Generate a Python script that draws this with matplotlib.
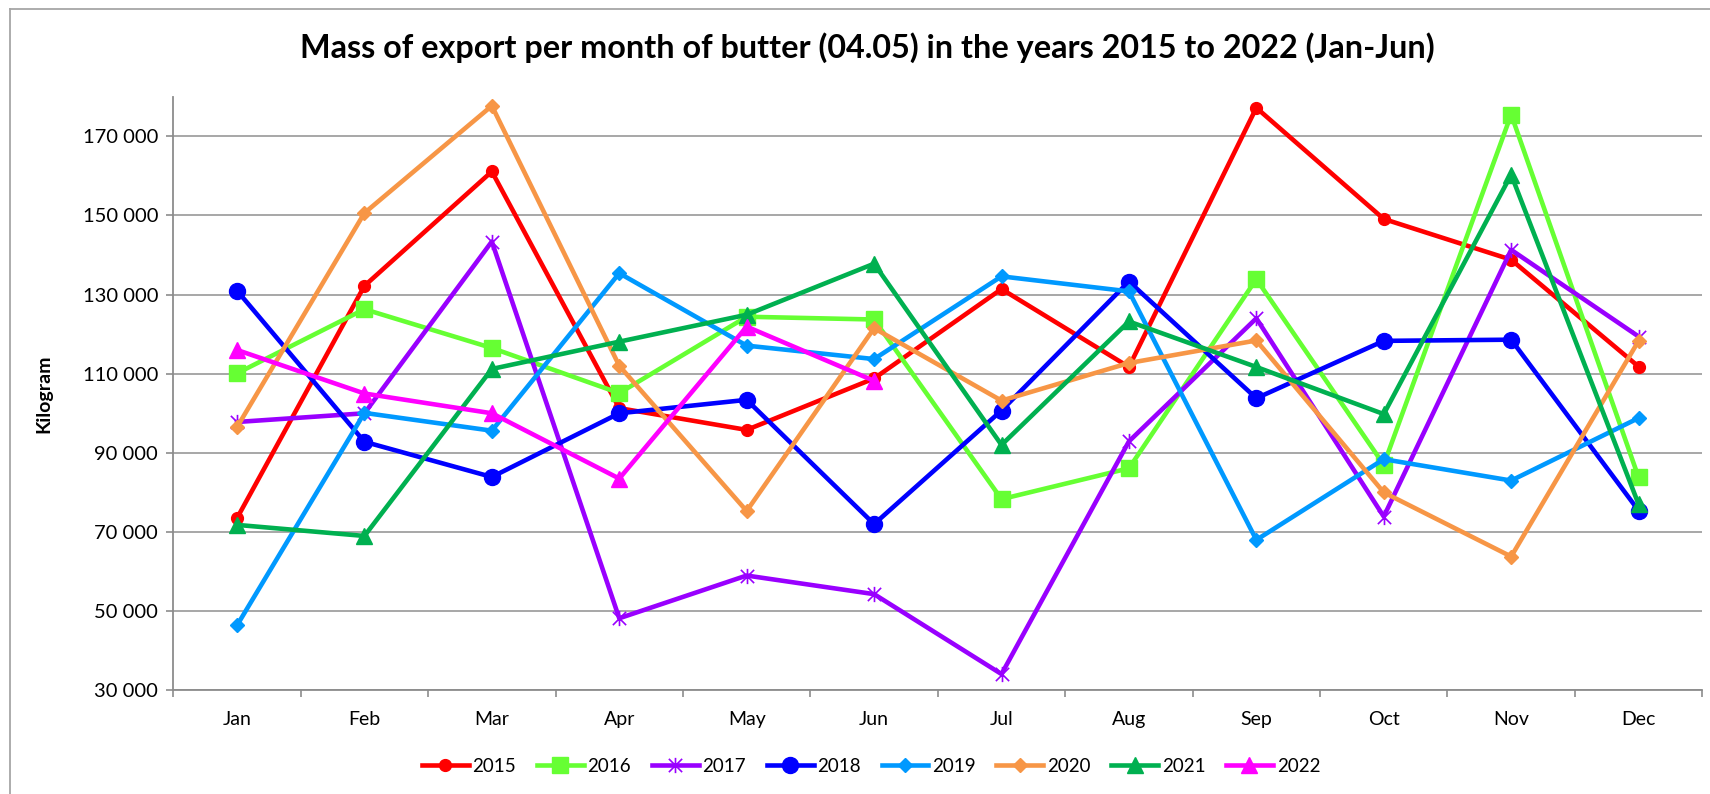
import matplotlib
matplotlib.use("Agg")
import matplotlib.pyplot as plt
from matplotlib.path import Path
from matplotlib.lines import Line2D
from matplotlib.ticker import FuncFormatter, FixedLocator

plt.rcParams['font.family'] = ['Lato', 'DejaVu Sans']

months = ["Jan", "Feb", "Mar", "Apr", "May", "Jun",
          "Jul", "Aug", "Sep", "Oct", "Nov", "Dec"]

y2015 = [73500, 132200, 161100, 101300, 95800, 108800, 131400, 111700, 177200, 149100, 138800, 111800]
y2016 = [110100, 126300, 116500, 105100, 124400, 123700, 78300, 86100, 133900, 87000, 175500, 83800]
y2017 = [97800, 100000, 143400, 48200, 59000, 54300, 34100, 92900, 124000, 73900, 141300, 119400]
y2018 = [131000, 92800, 83900, 100000, 103400, 72000, 100700, 133300, 103800, 118300, 118600, 75400]
y2019 = [46400, 100100, 95600, 135400, 117100, 113700, 134600, 130800, 68000, 88400, 83000, 98800]
y2020 = [96500, 150600, 177700, 112000, 75300, 121500, 103200, 112700, 118400, 80000, 63800, 118300]
y2021 = [71800, 69000, 111200, 118100, 124900, 137800, 92000, 123200, 111700, 99800, 160300, 77000]
y2022 = [116000, 105000, 100000, 83500, 121900, 108200]

series = [
    ("2015", y2015), ("2016", y2016), ("2017", y2017), ("2018", y2018),
    ("2019", y2019), ("2020", y2020), ("2021", y2021), ("2022", y2022),
]

star = Path([(-1, -1), (1, 1), (-1, 1), (1, -1), (0, -1.15), (0, 1.15)],
            [Path.MOVETO, Path.LINETO, Path.MOVETO, Path.LINETO, Path.MOVETO, Path.LINETO])

styles = {
    "2015": dict(color="#FF0000", marker="o", ms=8.5),
    "2016": dict(color="#66FF33", marker="s", ms=11.0),
    "2017": dict(color="#9900FF", marker=star, ms=11.0, mew=1.2),
    "2018": dict(color="#0000FF", marker="o", ms=11.5),
    "2019": dict(color="#0099FF", marker="D", ms=6.8),
    "2020": dict(color="#F79646", marker="D", ms=6.8),
    "2021": dict(color="#00B050", marker="^", ms=11.0),
    "2022": dict(color="#FF00FF", marker="^", ms=11.0),
}

W, H = 1710, 794
fig = plt.figure(figsize=(W / 100, H / 100), dpi=100)
ax = fig.add_axes([173.3 / W, 1 - 690.3 / H, (1702.3 - 173.3) / W, (690.3 - 96.7) / H])

x = list(range(1, 13))
for name, vals in series:
    st = styles[name]
    ax.plot(x[:len(vals)], vals, color=st["color"], lw=3.3, marker=st["marker"],
            ms=st["ms"], mfc=st["color"], mec=st["color"], mew=st.get("mew", 1.0),
            label=name, solid_joinstyle="round", clip_on=False)

ax.set_xlim(0.5, 12.5)
ax.set_ylim(30000, 180000)
ax.set_yticks(range(30000, 170001, 20000))
ax.yaxis.set_major_formatter(FuncFormatter(lambda v, p: f"{v:,.0f}".replace(",", " ")))
ax.set_xticks(x)
ax.set_xticklabels(months)
ax.xaxis.set_minor_locator(FixedLocator([i + 0.5 for i in range(0, 13)]))
ax.tick_params(axis="x", which="major", length=0, pad=15, labelsize=14)
ax.tick_params(axis="x", which="minor", length=5, width=1.2, color="#8C8C8C", direction="out")
ax.tick_params(axis="y", which="major", length=5, width=1.2, color="#8C8C8C", labelsize=14.5, pad=6)

ax.grid(axis="y", color="#A0A0A0", lw=1.3)
ax.set_axisbelow(True)
for s in ("top", "right"):
    ax.spines[s].set_visible(False)
for s in ("left", "bottom"):
    ax.spines[s].set_color("#8C8C8C")
    ax.spines[s].set_linewidth(1.3)

ax.set_ylabel("Kilogram", fontsize=14, fontweight="bold")
ax.yaxis.set_label_coords((52 - 173.3) / (1702.3 - 173.3), 0.5)

fig.text(867 / W, 1 - 48 / H, "Mass of export per month of butter (04.05) in the years 2015 to 2022 (Jan-Jun)",
         ha="center", va="center", fontsize=23.3, fontweight="bold")

leg = fig.legend(loc="center", bbox_to_anchor=(871 / W, 1 - 766 / H), ncol=8, frameon=False,
                 fontsize=13.5, handlelength=2.5, handletextpad=0.2, columnspacing=1.1,
                 borderaxespad=0, borderpad=0)

# outer chart border
fig.add_artist(Line2D([10 / W, 10 / W], [0, 1 - 9.3 / H], transform=fig.transFigure,
                      color="#A6A6A6", lw=1.3))
fig.add_artist(Line2D([10 / W, 1], [1 - 9.3 / H, 1 - 9.3 / H], transform=fig.transFigure,
                      color="#A6A6A6", lw=1.3))

fig.savefig("out.png", dpi=100)
